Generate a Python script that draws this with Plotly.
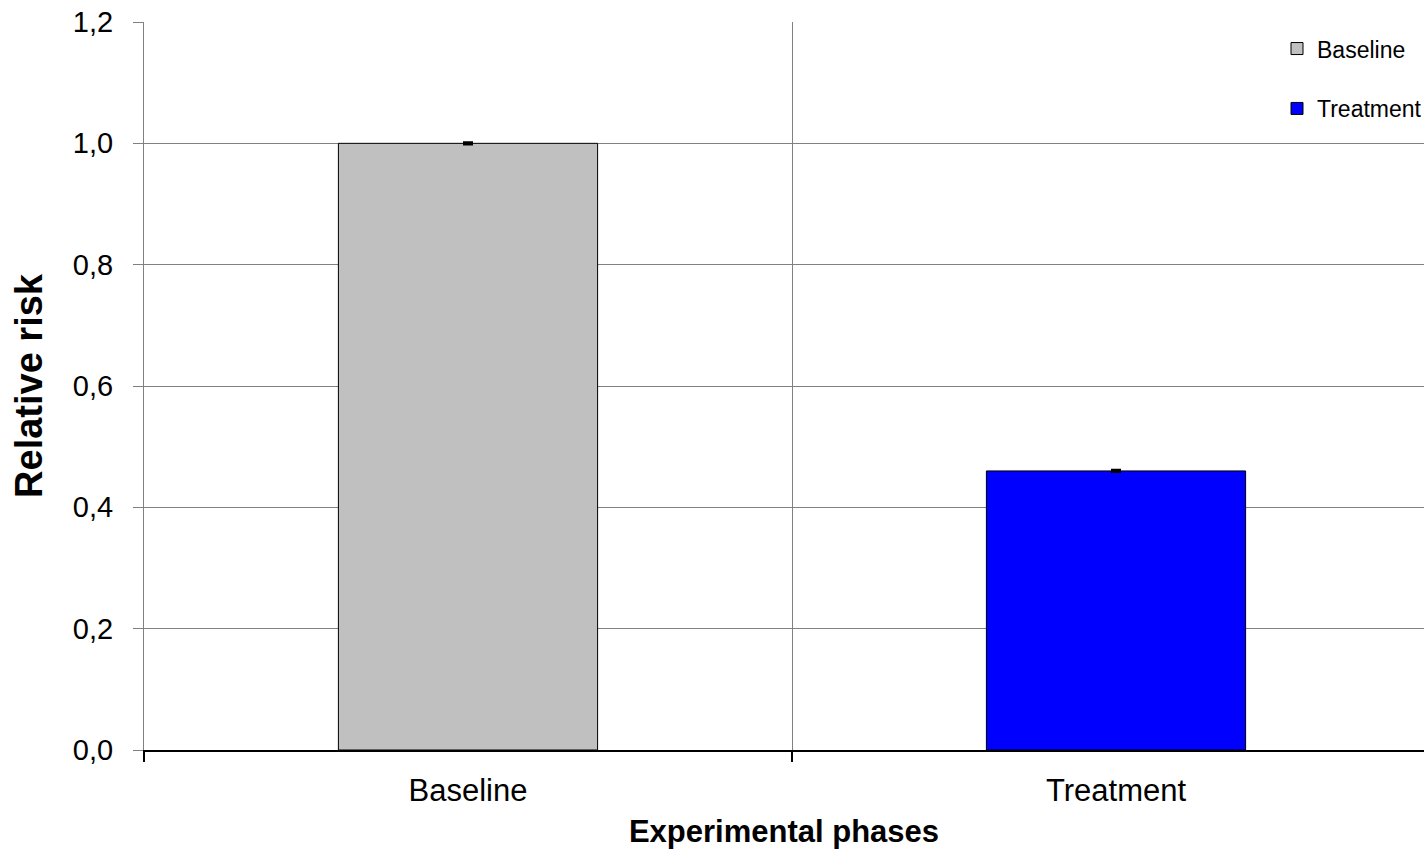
import plotly.graph_objects as go

categories = ["Baseline", "Treatment"]
values = [1.0, 0.46]
errors = [0.001, 0.001]
colors = ["#C0C0C0", "#0000FF"]

fig = go.Figure()
for cat, val, err, col in zip(categories, values, errors, colors):
    fig.add_trace(go.Bar(
        x=[cat], y=[val], name=cat,
        marker=dict(color=col, line=dict(color="black", width=1)),
        width=0.4,
        error_y=dict(type="data", array=[err], color="black", thickness=3, width=5, visible=True),
        legendgroup=cat,
    ))

fig.update_layout(
    width=1424, height=849,
    margin=dict(l=144, r=0, t=22, b=99, autoexpand=False),
    plot_bgcolor="white", paper_bgcolor="white",
    font=dict(family="Liberation Sans, Arial", size=29, color="black"),
    separators=", ",
    barmode="overlay",
    showlegend=True,
    legend=dict(
        x=(1277 - 144) / (1424 - 144), xanchor="left",
        y=0.993, yanchor="top",
        font=dict(size=23),
        traceorder="grouped", tracegroupgap=27,
        bgcolor="rgba(0,0,0,0)",
    ),
    xaxis=dict(
        type="category",
        range=[-0.5, 0.5 + (1424 - 792) / 648],
        tickson="boundaries",
        ticks="outside", ticklen=10, tickwidth=2, tickcolor="black",
        showline=True, linecolor="black", linewidth=2,
        showgrid=True, gridcolor="#808080", gridwidth=1,
        tickfont=dict(size=31),
        ticklabelstandoff=12,
        title=dict(text="<b>Experimental phases</b>", font=dict(size=31), standoff=14),
    ),
    yaxis=dict(
        range=[0, 1.2], dtick=0.2, tickformat=".1f",
        ticks="outside", ticklen=10, tickcolor="#808080",
        showline=True, linecolor="#808080", linewidth=1,
        showgrid=True, gridcolor="#808080", gridwidth=1,
        zeroline=False,
        tickfont=dict(size=29),
        ticklabelstandoff=14,
        title=dict(text="<b>Relative risk</b>", font=dict(size=38), standoff=18),
    ),
)

fig.write_html("out.html")
